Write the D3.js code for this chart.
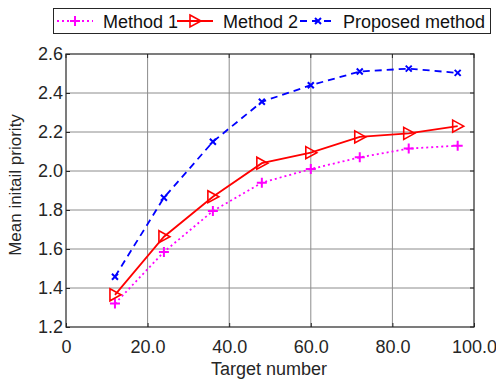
<!DOCTYPE html>
<html>
<head>
<meta charset="utf-8">
<script src="https://cdn.jsdelivr.net/npm/d3@7"></script>
<style>
  body { margin: 0; background: #fff; }
  svg { display: block; font-family: "Liberation Sans", Arial, sans-serif; }
</style>
</head>
<body>
<div id="container"></div>
<script>
// data
const targets = [12, 24, 36, 48, 60, 72, 84, 96];
const method1 = [1.32, 1.585, 1.795, 1.94, 2.01, 2.07, 2.115, 2.13];
const method2 = [1.365, 1.663, 1.868, 2.04, 2.094, 2.175, 2.193, 2.23];
const proposed = [1.458, 1.863, 2.15, 2.355, 2.44, 2.51, 2.525, 2.503];
const xTicks = [0, 20, 40, 60, 80, 100];
const yTicks = [1.2, 1.4, 1.6, 1.8, 2.0, 2.2, 2.4, 2.6];

const W = 496, H = 380;
const plotL = 66, plotR = 474, plotT = 54, plotB = 327;

const svg = d3.select("#container").append("svg")
  .attr("width", W).attr("height", H);

const x = d3.scaleLinear().domain([0, 100]).range([plotL, plotR]);
const y = d3.scaleLinear().domain([1.2, 2.6]).range([plotB, plotT]);

// grid
svg.append("g").selectAll("line").data(xTicks.slice(1, -1)).join("line")
  .attr("x1", d => x(d)).attr("x2", d => x(d))
  .attr("y1", plotT).attr("y2", plotB)
  .attr("stroke", "#8c8c8c").attr("stroke-width", 1);
svg.append("g").selectAll("line").data(yTicks.slice(1, -1)).join("line")
  .attr("x1", plotL).attr("x2", plotR)
  .attr("y1", d => y(d)).attr("y2", d => y(d))
  .attr("stroke", "#8c8c8c").attr("stroke-width", 1);

// axes (ticks inward, MATLAB style)
const xAxis = d3.axisBottom(x).tickValues(xTicks)
  .tickFormat(d => d === 0 ? "0" : d3.format(".1f")(d))
  .tickSizeInner(-4).tickSizeOuter(0).tickPadding(13);
const yAxis = d3.axisLeft(y).tickValues(yTicks)
  .tickFormat(d3.format(".1f"))
  .tickSizeInner(-4).tickSizeOuter(0).tickPadding(3);

const gx = svg.append("g").attr("transform", `translate(0,${plotB})`).call(xAxis);
const gy = svg.append("g").attr("transform", `translate(${plotL},0)`).call(yAxis);
[gx, gy].forEach(g => {
  g.select(".domain").remove();
  g.selectAll("text").attr("font-size", 18).attr("fill", "#262626")
    .attr("font-family", "Liberation Sans, Arial, sans-serif");
  g.selectAll("line").attr("stroke", "#262626");
});

// top/right ticks
svg.append("g").selectAll("line").data(xTicks).join("line")
  .attr("x1", d => x(d)).attr("x2", d => x(d))
  .attr("y1", plotT).attr("y2", plotT + 4).attr("stroke", "#262626");
svg.append("g").selectAll("line").data(yTicks).join("line")
  .attr("x1", plotR - 4).attr("x2", plotR)
  .attr("y1", d => y(d)).attr("y2", d => y(d)).attr("stroke", "#262626");

// box
svg.append("rect").attr("x", plotL).attr("y", plotT)
  .attr("width", plotR - plotL).attr("height", plotB - plotT)
  .attr("fill", "none").attr("stroke", "#262626").attr("stroke-width", 1.2);

// labels
svg.append("text").attr("x", 269).attr("y", 375)
  .attr("text-anchor", "middle").attr("font-size", 18).attr("fill", "#262626")
  .text("Target number");
svg.append("text")
  .attr("transform", `translate(21,185) rotate(-90)`)
  .attr("text-anchor", "middle").attr("font-size", 17).attr("fill", "#262626")
  .text("Mean initail priority");

const series = [
  { name: "Method 1", values: method1, color: "#ff00ff", dash: "2,3", marker: "plus" },
  { name: "Method 2", values: method2, color: "#ff0000", dash: null, marker: "tri" },
  { name: "Proposed method", values: proposed, color: "#0000ff", dash: "7,5", marker: "cross" }
];

const line = d3.line().x(d => x(d[0])).y(d => y(d[1]));

function drawMarker(g, kind, color) {
  if (kind === "plus") {
    g.append("path").attr("d", "M-5,0H5M0,-5V5")
      .attr("stroke", color).attr("stroke-width", 2).attr("fill", "none");
  } else if (kind === "tri") {
    g.append("path").attr("d", "M-5,-6L6,0L-5,6Z")
      .attr("stroke", color).attr("stroke-width", 1.6).attr("fill", "none");
  } else {
    g.append("path").attr("d", "M-3,-3L3,3M-3,3L3,-3")
      .attr("stroke", color).attr("stroke-width", 2).attr("fill", "none");
  }
}

series.forEach(s => {
  const pts = targets.map((t, i) => [t, s.values[i]]);
  svg.append("path").attr("d", line(pts))
    .attr("fill", "none").attr("stroke", s.color).attr("stroke-width", 1.8)
    .attr("stroke-dasharray", s.dash);
  pts.forEach(p => {
    const g = svg.append("g").attr("transform", `translate(${x(p[0])},${y(p[1])})`);
    drawMarker(g, s.marker, s.color);
  });
});

// legend
svg.append("rect").attr("x", 53.5).attr("y", 8.5).attr("width", 437).attr("height", 25)
  .attr("fill", "#fff").attr("stroke", "#262626").attr("stroke-width", 1);
const legendPos = [{ lx: 57, tx: 103 }, { lx: 177, tx: 223 }, { lx: 300, tx: 343 }];
series.forEach((s, i) => {
  const p = legendPos[i];
  svg.append("line").attr("x1", p.lx).attr("x2", p.lx + 36)
    .attr("y1", 21).attr("y2", 21)
    .attr("stroke", s.color).attr("stroke-width", 1.8).attr("stroke-dasharray", s.dash);
  const g = svg.append("g").attr("transform", `translate(${p.lx + 18},21)`);
  drawMarker(g, s.marker, s.color);
  svg.append("text").attr("x", p.tx).attr("y", 28)
    .attr("font-size", 18).attr("fill", "#111").text(s.name);
});
</script>
</body>
</html>
